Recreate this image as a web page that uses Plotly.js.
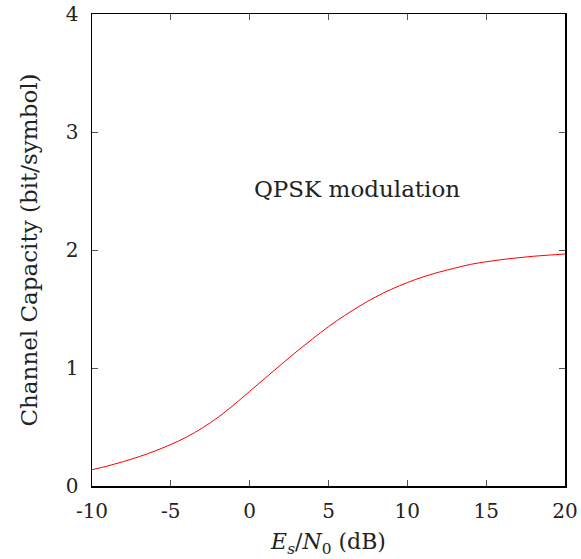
<!DOCTYPE html>
<html>
<head>
<meta charset="utf-8">
<script src="https://cdn.plot.ly/plotly-3.0.1.min.js"></script>
<style>html,body{margin:0;padding:0;background:#fff;}#chart{width:581px;height:559px;}</style>
</head>
<body>
<div id="chart"></div>
<script>
const snrDb = [-10,-9,-8,-7,-6,-5,-4,-3,-2,-1,0,1,2,3,4,5,6,7,8,9,10,11,12,13,14,15,16,17,18,19,20];
const capacity = [0.138,0.170,0.207,0.249,0.297,0.352,0.415,0.492,0.582,0.688,0.802,0.916,1.030,1.142,1.248,1.350,1.443,1.527,1.603,1.668,1.724,1.772,1.812,1.846,1.878,1.900,1.919,1.934,1.947,1.957,1.966];
const xTicks = [-10,-5,0,5,10,15,20];
const yTicks = [0,1,2,3,4];
const noteText = "QPSK modulation";

const font = "'DejaVu Serif', serif";
const axisCommon = {
  showline: true, linecolor: "#000", linewidth: 1.5, mirror: "ticks",
  ticks: "inside", ticklen: 6, tickwidth: 1, tickcolor: "#555",
  showgrid: false, zeroline: false,
  tickfont: {family: font, size: 20, color: "#222"}
};
const trace = {
  x: snrDb, y: capacity, type: "scatter", mode: "lines",
  line: {color: "#ff0000", width: 1, shape: "spline"},
  hoverinfo: "skip"
};
const layout = {
  width: 581, height: 559,
  margin: {l: 92, r: 16, t: 14, b: 73},
  paper_bgcolor: "#fff", plot_bgcolor: "#fff",
  showlegend: false,
  xaxis: Object.assign({}, axisCommon, {
    range: [-10, 20], tickvals: xTicks, ticktext: xTicks.map(String),
    ticklabelstandoff: 6,
    title: {text: "<i>E</i><sub><i>s</i></sub>/<i>N</i><sub>0</sub> (dB)", font: {family: font, size: 22, color: "#222"}, standoff: 12}
  }),
  yaxis: Object.assign({}, axisCommon, {
    range: [0, 4], tickvals: yTicks, ticktext: yTicks.map(String),
    ticklabelstandoff: 8,
    title: {text: "Channel Capacity (bit/symbol)", font: {family: font, size: 23, color: "#222"}, standoff: 21}
  }),
  annotations: [{
    x: 6.8, y: 2.52, xref: "x", yref: "y", text: noteText, showarrow: false,
    font: {family: font, size: 23, color: "#222"}
  }]
};
Plotly.newPlot("chart", [trace], layout, {displayModeBar: false, staticPlot: true});
</script>
</body>
</html>
